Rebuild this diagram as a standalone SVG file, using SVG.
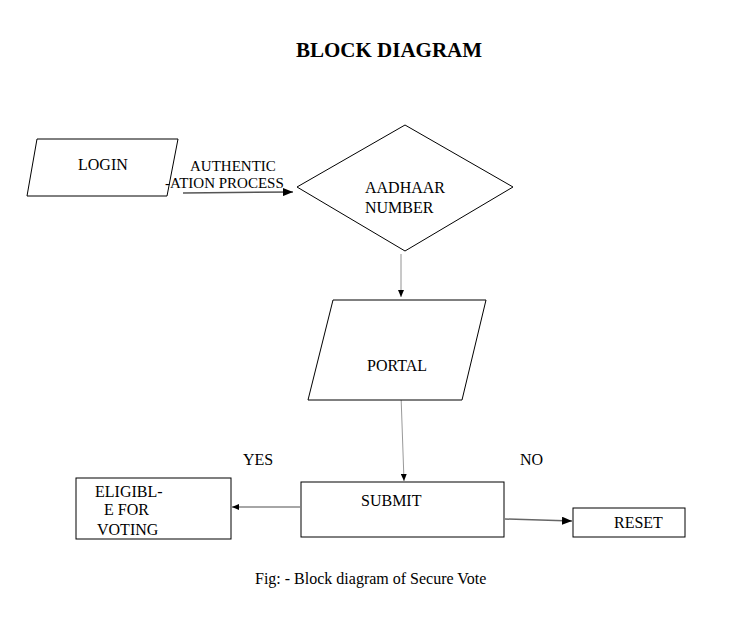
<svg xmlns="http://www.w3.org/2000/svg" width="755" height="640" viewBox="0 0 755 640">
<style>
.s{fill:#fff;stroke:#000;stroke-width:1}
.t{font-family:"Liberation Serif","Times New Roman",serif;font-size:16px;fill:#000}
.c{fill:none;stroke:#000;stroke-width:1}
.g{fill:none;stroke:#888;stroke-width:1.5}
</style>
<defs>
<marker id="a" markerWidth="10" markerHeight="8" refX="10" refY="4" orient="auto" markerUnits="userSpaceOnUse"><path d="M0,0 L10,4 L0,8 z" fill="#000"/></marker>
<marker id="b" markerWidth="7" markerHeight="6" refX="7" refY="3" orient="auto" markerUnits="userSpaceOnUse"><path d="M0,0 L7,3 L0,6 z" fill="#000"/></marker>
</defs>
<rect width="755" height="640" fill="#fff"/>
<text x="389" y="57" text-anchor="middle" style="font-family:'Liberation Serif','Times New Roman',serif;font-size:21px;font-weight:bold">BLOCK DIAGRAM</text>
<g id="connectors">
<line x1="183" y1="193" x2="293" y2="192" class="g" marker-end="url(#a)" style="stroke:#555"/>
<line x1="401" y1="254" x2="401" y2="297" class="c" style="stroke:#777;stroke-width:0.8" marker-end="url(#b)"/>
<line x1="401" y1="395" x2="404" y2="481" class="c" style="stroke:#999" marker-end="url(#b)"/>
<line x1="300" y1="507" x2="232" y2="507" class="g" marker-end="url(#b)"/>
<line x1="505" y1="519" x2="572" y2="521" class="g" style="stroke:#666" marker-end="url(#a)"/>
</g>
<g id="login">
<polygon points="37,139 178,139 167,196 27,196" class="s"/>
<text x="78" y="170" class="t">LOGIN</text>
</g>
<g id="auth-label">
<text x="190" y="171" class="t" style="font-size:15px">AUTHENTIC</text>
<text x="165" y="188" class="t" style="font-size:15px">-ATION PROCESS</text>
</g>
<g id="aadhaar">
<polygon points="405,125 513,187 405,251 297,187" class="s"/>
<text x="365" y="193" class="t">AADHAAR</text>
<text x="365" y="213" class="t">NUMBER</text>
</g>
<g id="portal">
<polygon points="333,300 486,300 462,400 308,400" class="s"/>
<text x="367" y="371" class="t">PORTAL</text>
</g>
<g id="submit">
<rect x="301" y="482" width="203" height="55" class="s"/>
<text x="361" y="506" class="t">SUBMIT</text>
</g>
<g id="eligible">
<rect x="76" y="478" width="155" height="61" class="s"/>
<text x="95" y="497" class="t">ELIGIBL-</text>
<text x="104" y="515" class="t">E FOR</text>
<text x="97" y="535" class="t">VOTING</text>
</g>
<g id="reset">
<rect x="573" y="508" width="112" height="29" class="s"/>
<text x="614" y="528" class="t">RESET</text>
</g>
<text x="243" y="465" class="t">YES</text>
<text x="520" y="465" class="t">NO</text>
<text x="255" y="584" class="t">Fig: - Block diagram of Secure Vote</text>
</svg>
